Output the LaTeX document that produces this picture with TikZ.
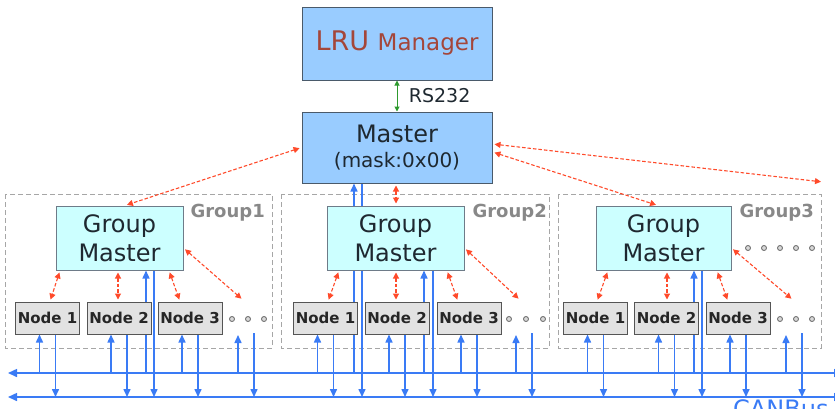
\documentclass[tikz,border=0pt]{standalone}
\usepackage{fontspec}
\setmainfont{DejaVu Sans}
\usetikzlibrary{arrows.meta}
\definecolor{mblue}{HTML}{99CCFF}
\definecolor{mborder}{HTML}{4A5A6A}
\definecolor{gmfill}{HTML}{CCFFFF}
\definecolor{ndfill}{HTML}{E2E2E2}
\definecolor{ndborder}{HTML}{555555}
\definecolor{busblue}{HTML}{3A7BF5}
\definecolor{redd}{HTML}{FF4A2A}
\definecolor{grpgray}{HTML}{888888}
\definecolor{lrutext}{HTML}{A4463A}
\definecolor{txt}{HTML}{1E2830}
\definecolor{grn}{HTML}{2E9A2E}
\pgfdeclarelayer{bg}\pgfdeclarelayer{mid}\pgfsetlayers{bg,mid,main}
\newcommand\fsz[2]{\fontsize{#1}{#2}\selectfont}
\begin{document}
\begin{tikzpicture}[x=1pt,y=-1pt,
  topbox/.style={draw=mborder,fill=mblue,line width=1pt,minimum width=190pt,inner sep=0pt,text=txt},
  gmbox/.style={draw=mborder!80,fill=gmfill,line width=1pt,minimum height=64pt,inner sep=0pt,align=center,text=txt,font=\fsz{24}{29}},
  ndbox/.style={draw=ndborder,fill=ndfill,line width=1pt,minimum width=64pt,minimum height=32pt,inner sep=0pt,font=\bfseries\fsz{15}{15},text=black!85},
  grpbox/.style={draw=black!35,dash pattern=on 5pt off 3pt,line width=1pt},
  grplbl/.style={font=\bfseries\fsz{18}{18},text=grpgray,anchor=base east,inner sep=0pt},
  dotc/.style={circle,draw=black!55,fill=black!15,line width=0.9pt,minimum size=5pt,inner sep=0pt},
  bus/.style={draw=busblue,line width=1.5pt},
  busline/.style={bus,{Triangle[length=9pt,width=8pt]}-{Triangle[length=9pt,width=8pt]}},
  blar/.style={bus,-{Triangle[length=8pt,width=7pt]}},
  redarr/.style={draw=redd,line width=1.1pt,dash pattern=on 3.5pt off 2pt,{Triangle[length=6pt,width=6pt]}-{Triangle[length=6pt,width=6pt]},shorten <=2pt,shorten >=2pt},
  grnarr/.style={draw=grn,line width=1pt,{Triangle[length=5pt,width=5pt]}-{Triangle[length=5pt,width=5pt]}}
]
\useasboundingbox (0,0) rectangle (835,408);
\clip (0,0) rectangle (835,408);

% top boxes
\node[topbox,minimum height=73pt] (lru) at (397,43.5) {\color{lrutext}\fsz{27}{27}LRU\ \fsz{23}{23}Manager};
\node[topbox,minimum height=71pt,align=center,font=\fsz{24}{25}] (m) at (397,147.5) {Master\\{\fsz{20}{25}(mask:0x00)}};
\draw[grnarr] (lru.south) -- (m.north) node[midway,right=8pt,font=\fsz{19}{19},text=txt] (rs) {RS232};

% groups
\begin{pgfonlayer}{bg}
\draw[grpbox] (5,194) rectangle (272,348);
\draw[grpbox] (281,194) rectangle (549,348);
\draw[grpbox] (558,194) rectangle (821,348);
\end{pgfonlayer}
\node[grplbl] (g1l) at (265,217) {Group1};
\node[grplbl] (g2l) at (547,217) {Group2};
\node[grplbl] (g3l) at (814,217) {Group3};

% group masters
\node[gmbox,minimum width=127pt] (gm1) at (119.5,238) {Group\\Master};
\node[gmbox,minimum width=137pt] (gm2) at (395.5,238) {Group\\Master};
\node[gmbox,minimum width=135pt] (gm3) at (663.5,238) {Group\\Master};

% nodes
\node[ndbox] (n11) at (47.5,318) {Node 1};
\node[ndbox] (n12) at (119,318) {Node 2};
\node[ndbox] (n13) at (190,318) {Node 3};
\node[ndbox] (n21) at (325.5,318) {Node 1};
\node[ndbox] (n22) at (397,318) {Node 2};
\node[ndbox] (n23) at (469,318) {Node 3};
\node[ndbox] (n31) at (595.5,318) {Node 1};
\node[ndbox] (n32) at (666.5,318) {Node 2};
\node[ndbox] (n33) at (738,318) {Node 3};

% dots
\node[dotc] (d11) at (232,319) {};
\node[dotc] (d12) at (248,319) {};
\node[dotc] (d13) at (264,319) {};
\node[dotc] (d21) at (509,319) {};
\node[dotc] (d22) at (526,319) {};
\node[dotc] (d23) at (543,319) {};
\node[dotc] (d31) at (780,319) {};
\node[dotc] (d32) at (796,319) {};
\node[dotc] (d33) at (812,319) {};
\node[dotc] (e1) at (748,248) {};
\node[dotc] (e2) at (764,248) {};
\node[dotc] (e3) at (780,248) {};
\node[dotc] (e4) at (796,248) {};
\node[dotc] (e5) at (812,248) {};

% bus
\coordinate (busAL) at (8,373);
\coordinate (busAR) at (843,373);
\coordinate (busBL) at (8,397);
\coordinate (busBR) at (843,397);
\coordinate (d1u) at (238,335);
\coordinate (d1d) at (254,333);
\coordinate (d2u) at (516,335);
\coordinate (d2d) at (532,333);
\coordinate (d3u) at (786,335);
\coordinate (d3d) at (802,333);
\coordinate (r1) at (243,300);
\coordinate (r2) at (520,300);
\coordinate (r3) at (793,300);
\coordinate (far) at (823,182);

\begin{pgfonlayer}{mid}
\draw[busline] (busAL) -- (busAR);
\draw[busline] (busBL) -- (busBR);
\foreach \n in {n11,n12,n13,n21,n22,n23,n31,n32,n33}{
  \path ([xshift=-8pt]\n.south) coordinate (u) ([xshift=8pt]\n.south) coordinate (v);
  \draw[blar] (u |- busAL) -- (u);
  \draw[blar] (v) -- (v |- busBL);
}
\foreach \k in {1,2,3}{
  \draw[blar] (d\k u |- busAL) -- (d\k u);
  \draw[blar] (d\k d) -- (d\k d |- busBL);
}
\path ([xshift=26.5pt]gm1.south) coordinate (u) ([xshift=34.5pt]gm1.south) coordinate (v);
\draw[blar] (u |- busAL) -- (u);
\draw[blar] (v) -- (v |- busBL);
\path ([xshift=28.5pt]gm2.south) coordinate (u) ([xshift=37.5pt]gm2.south) coordinate (v);
\draw[blar] (u |- busAL) -- (u);
\draw[blar] (v) -- (v |- busBL);
\path ([xshift=30.5pt]gm3.south) coordinate (u) ([xshift=38.5pt]gm3.south) coordinate (v);
\draw[blar] (u |- busAL) -- (u);
\draw[blar] (v) -- (v |- busBL);
\path ([xshift=-43pt]m.south) coordinate (u) ([xshift=-35pt]m.south) coordinate (v);
\draw[blar] (u |- busAL) -- (u);
\draw[blar] (v) -- (v |- busBL);
\end{pgfonlayer}

% red dashed links
\draw[redarr] (m.west) -- ([xshift=5.5pt]gm1.north);
\draw[redarr] ([xshift=-1pt]m.south) -- ([xshift=0.5pt]gm2.north);
\draw[redarr] ([yshift=-4.5pt]m.east) -- ([xshift=-5.5pt]gm3.north);
\draw[redarr] ([yshift=3.5pt]m.east) -- (far);

\draw[redarr] ([xshift=-59.5pt]gm1.south) -- ([xshift=2.5pt]n11.north);
\draw[redarr] ([xshift=-1.5pt]gm1.south) -- ([xshift=-1pt]n12.north);
\draw[redarr] ([xshift=49.5pt]gm1.south) -- ([xshift=-10pt]n13.north);
\draw[redarr] ([yshift=-10pt]gm1.east) -- (r1);

\draw[redarr] ([xshift=-56.5pt]gm2.south) -- ([xshift=2.5pt]n21.north);
\draw[redarr] ([xshift=0.5pt]gm2.south) -- ([xshift=-1pt]n22.north);
\draw[redarr] ([xshift=51.5pt]gm2.south) -- ([xshift=-11pt]n23.north);
\draw[redarr] ([yshift=-10pt]gm2.east) -- (r2);

\draw[redarr] ([xshift=-55.5pt]gm3.south) -- ([xshift=1.5pt]n31.north);
\draw[redarr] ([xshift=3.5pt]gm3.south) -- ([xshift=0.5pt]n32.north);
\draw[redarr] ([xshift=53.5pt]gm3.south) -- ([xshift=-10pt]n33.north);
\draw[redarr] ([yshift=-10pt]gm3.east) -- (r3);

\node[font=\fsz{24}{24},text=busblue,anchor=north west,inner sep=0pt] (can) at (733,399) {CANBus};
\end{tikzpicture}
\end{document}
